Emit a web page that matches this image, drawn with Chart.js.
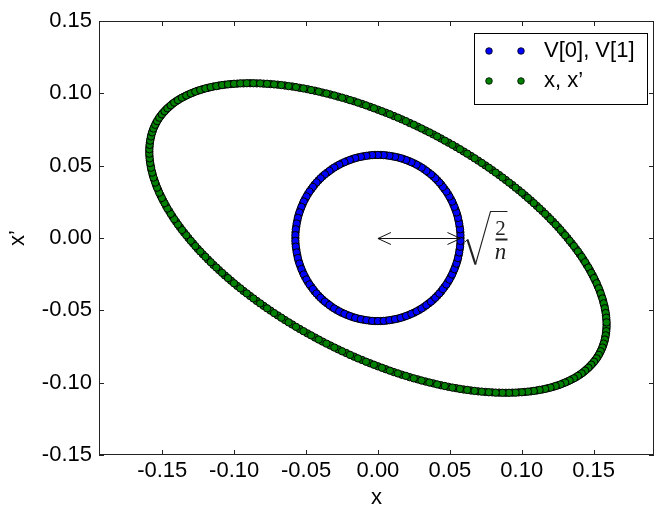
<!DOCTYPE html>
<html>
<head>
<meta charset="utf-8">
<script src="https://cdn.jsdelivr.net/npm/chart.js@4"></script>
<style>
  html, body { margin: 0; padding: 0; background: #fff; }
  canvas { display: block; }
</style>
</head>
<body>
<canvas id="myChart" width="659" height="509"></canvas>
<script>
// データ
const seriesNames = ['V[0], V[1]', 'x, x’'];

// 青い円 V[0], V[1]
const circleX = [
  0.0574, 0.0573, 0.0568, 0.0561, 0.0552, 0.0539, 0.0524, 0.0507, 0.0487, 0.0464,
  0.0440, 0.0413, 0.0384, 0.0353, 0.0321, 0.0287, 0.0252, 0.0215, 0.0177, 0.0139,
  0.0100, 0.0060, 0.0020, -0.0020, -0.0060, -0.0100, -0.0139, -0.0177, -0.0215, -0.0252,
  -0.0287, -0.0321, -0.0353, -0.0384, -0.0413, -0.0440, -0.0464, -0.0487, -0.0507, -0.0524,
  -0.0539, -0.0552, -0.0561, -0.0568, -0.0573,
  -0.0574, -0.0573, -0.0568, -0.0561, -0.0552, -0.0539, -0.0524, -0.0507, -0.0487, -0.0464,
  -0.0440, -0.0413, -0.0384, -0.0353, -0.0321, -0.0287, -0.0252, -0.0215, -0.0177, -0.0139,
  -0.0100, -0.0060, -0.0020, 0.0020, 0.0060, 0.0100, 0.0139, 0.0177, 0.0215, 0.0252,
  0.0287, 0.0321, 0.0353, 0.0384, 0.0413, 0.0440, 0.0464, 0.0487, 0.0507, 0.0524,
  0.0539, 0.0552, 0.0561, 0.0568, 0.0573,
  0.0574, 0.0571, 0.0565, 0.0557, 0.0546, 0.0532, 0.0516, 0.0497, 0.0476, 0.0452,
  0.0427, 0.0399, 0.0369, 0.0337, 0.0304, 0.0269, 0.0233, 0.0196, 0.0158, 0.0119,
  0.0080, 0.0040, 0.0000, -0.0040, -0.0080, -0.0119, -0.0158, -0.0196, -0.0233, -0.0269,
  -0.0304, -0.0337, -0.0369, -0.0399, -0.0427, -0.0452, -0.0476, -0.0497, -0.0516, -0.0532,
  -0.0546, -0.0557, -0.0565, -0.0571, -0.0574,
  -0.0574, -0.0571, -0.0565, -0.0557, -0.0546, -0.0532, -0.0516, -0.0497, -0.0476, -0.0452,
  -0.0427, -0.0399, -0.0369, -0.0337, -0.0304, -0.0269, -0.0233, -0.0196, -0.0158, -0.0119,
  -0.0080, -0.0040, 0.0000, 0.0040, 0.0080, 0.0119, 0.0158, 0.0196, 0.0233, 0.0269,
  0.0304, 0.0337, 0.0369, 0.0399, 0.0427, 0.0452, 0.0476, 0.0497, 0.0516, 0.0532,
  0.0546, 0.0557, 0.0565, 0.0571, 0.0574
];
const circleY = [
  0.0000, 0.0040, 0.0080, 0.0119, 0.0158, 0.0196, 0.0233, 0.0269, 0.0304, 0.0337,
  0.0369, 0.0399, 0.0427, 0.0452, 0.0476, 0.0497, 0.0516, 0.0532, 0.0546, 0.0557,
  0.0565, 0.0571, 0.0574, 0.0574, 0.0571, 0.0565, 0.0557, 0.0546, 0.0532, 0.0516,
  0.0497, 0.0476, 0.0452, 0.0427, 0.0399, 0.0369, 0.0337, 0.0304, 0.0269, 0.0233,
  0.0196, 0.0158, 0.0119, 0.0080, 0.0040,
  0.0000, -0.0040, -0.0080, -0.0119, -0.0158, -0.0196, -0.0233, -0.0269, -0.0304, -0.0337,
  -0.0369, -0.0399, -0.0427, -0.0452, -0.0476, -0.0497, -0.0516, -0.0532, -0.0546, -0.0557,
  -0.0565, -0.0571, -0.0574, -0.0574, -0.0571, -0.0565, -0.0557, -0.0546, -0.0532, -0.0516,
  -0.0497, -0.0476, -0.0452, -0.0427, -0.0399, -0.0369, -0.0337, -0.0304, -0.0269, -0.0233,
  -0.0196, -0.0158, -0.0119, -0.0080, -0.0040,
  0.0020, 0.0060, 0.0100, 0.0139, 0.0177, 0.0215, 0.0252, 0.0287, 0.0321, 0.0353,
  0.0384, 0.0413, 0.0440, 0.0464, 0.0487, 0.0507, 0.0524, 0.0539, 0.0552, 0.0561,
  0.0568, 0.0573, 0.0574, 0.0573, 0.0568, 0.0561, 0.0552, 0.0539, 0.0524, 0.0507,
  0.0487, 0.0464, 0.0440, 0.0413, 0.0384, 0.0353, 0.0321, 0.0287, 0.0252, 0.0215,
  0.0177, 0.0139, 0.0100, 0.0060, 0.0020,
  -0.0020, -0.0060, -0.0100, -0.0139, -0.0177, -0.0215, -0.0252, -0.0287, -0.0321, -0.0353,
  -0.0384, -0.0413, -0.0440, -0.0464, -0.0487, -0.0507, -0.0524, -0.0539, -0.0552, -0.0561,
  -0.0568, -0.0573, -0.0574, -0.0573, -0.0568, -0.0561, -0.0552, -0.0539, -0.0524, -0.0507,
  -0.0487, -0.0464, -0.0440, -0.0413, -0.0384, -0.0353, -0.0321, -0.0287, -0.0252, -0.0215,
  -0.0177, -0.0139, -0.0100, -0.0060, -0.0020
];

// 緑の楕円 x, x'
const ellipseX = [
  0.1590, 0.1589, 0.1586, 0.1581, 0.1575, 0.1566, 0.1555, 0.1543, 0.1528, 0.1512,
  0.1494, 0.1474, 0.1452, 0.1429, 0.1404, 0.1377, 0.1348, 0.1318, 0.1286, 0.1253,
  0.1218, 0.1182, 0.1144, 0.1105, 0.1064, 0.1022, 0.0979, 0.0935, 0.0889, 0.0843,
  0.0795, 0.0747, 0.0697, 0.0647, 0.0596, 0.0544, 0.0491, 0.0438, 0.0385, 0.0331,
  0.0276, 0.0221, 0.0166, 0.0111, 0.0055, 0.0000, -0.0055, -0.0111, -0.0166, -0.0221,
  -0.0276, -0.0331, -0.0385, -0.0438, -0.0491, -0.0544, -0.0596, -0.0647, -0.0697, -0.0747,
  -0.0795, -0.0843, -0.0889, -0.0935, -0.0979, -0.1022, -0.1064, -0.1105, -0.1144, -0.1182,
  -0.1218, -0.1253, -0.1286, -0.1318, -0.1348, -0.1377, -0.1404, -0.1429, -0.1452, -0.1474,
  -0.1494, -0.1512, -0.1528, -0.1543, -0.1555, -0.1566, -0.1575, -0.1581, -0.1586, -0.1589,
  -0.1590, -0.1589, -0.1586, -0.1581, -0.1575, -0.1566, -0.1555, -0.1543, -0.1528, -0.1512,
  -0.1494, -0.1474, -0.1452, -0.1429, -0.1404, -0.1377, -0.1348, -0.1318, -0.1286, -0.1253,
  -0.1218, -0.1182, -0.1144, -0.1105, -0.1064, -0.1022, -0.0979, -0.0935, -0.0889, -0.0843,
  -0.0795, -0.0747, -0.0697, -0.0647, -0.0596, -0.0544, -0.0491, -0.0438, -0.0385, -0.0331,
  -0.0276, -0.0221, -0.0166, -0.0111, -0.0055, 0.0000, 0.0055, 0.0111, 0.0166, 0.0221,
  0.0276, 0.0331, 0.0385, 0.0438, 0.0491, 0.0544, 0.0596, 0.0647, 0.0697, 0.0747,
  0.0795, 0.0843, 0.0889, 0.0935, 0.0979, 0.1022, 0.1064, 0.1105, 0.1144, 0.1182,
  0.1218, 0.1253, 0.1286, 0.1318, 0.1348, 0.1377, 0.1404, 0.1429, 0.1452, 0.1474,
  0.1494, 0.1512, 0.1528, 0.1543, 0.1555, 0.1566, 0.1575, 0.1581, 0.1586, 0.1589,
  0.1590, 0.1588, 0.1584, 0.1578, 0.1570, 0.1561, 0.1549, 0.1536, 0.1521, 0.1503,
  0.1484, 0.1464, 0.1441, 0.1417, 0.1391, 0.1363, 0.1333, 0.1302, 0.1270, 0.1236,
  0.1200, 0.1163, 0.1124, 0.1084, 0.1043, 0.1001, 0.0957, 0.0912, 0.0866, 0.0819,
  0.0771, 0.0722, 0.0672, 0.0621, 0.0570, 0.0518, 0.0465, 0.0412, 0.0358, 0.0303,
  0.0249, 0.0194, 0.0139, 0.0083, 0.0028, -0.0028, -0.0083, -0.0139, -0.0194, -0.0249,
  -0.0303, -0.0358, -0.0412, -0.0465, -0.0518, -0.0570, -0.0621, -0.0672, -0.0722, -0.0771,
  -0.0819, -0.0866, -0.0912, -0.0957, -0.1001, -0.1043, -0.1084, -0.1124, -0.1163, -0.1200,
  -0.1236, -0.1270, -0.1302, -0.1333, -0.1363, -0.1391, -0.1417, -0.1441, -0.1464, -0.1484,
  -0.1503, -0.1521, -0.1536, -0.1549, -0.1561, -0.1570, -0.1578, -0.1584, -0.1588, -0.1590,
  -0.1590, -0.1588, -0.1584, -0.1578, -0.1570, -0.1561, -0.1549, -0.1536, -0.1521, -0.1503,
  -0.1484, -0.1464, -0.1441, -0.1417, -0.1391, -0.1363, -0.1333, -0.1302, -0.1270, -0.1236,
  -0.1200, -0.1163, -0.1124, -0.1084, -0.1043, -0.1001, -0.0957, -0.0912, -0.0866, -0.0819,
  -0.0771, -0.0722, -0.0672, -0.0621, -0.0570, -0.0518, -0.0465, -0.0412, -0.0358, -0.0303,
  -0.0249, -0.0194, -0.0139, -0.0083, -0.0028, 0.0028, 0.0083, 0.0139, 0.0194, 0.0249,
  0.0303, 0.0358, 0.0412, 0.0465, 0.0518, 0.0570, 0.0621, 0.0672, 0.0722, 0.0771,
  0.0819, 0.0866, 0.0912, 0.0957, 0.1001, 0.1043, 0.1084, 0.1124, 0.1163, 0.1200,
  0.1236, 0.1270, 0.1302, 0.1333, 0.1363, 0.1391, 0.1417, 0.1441, 0.1464, 0.1484,
  0.1503, 0.1521, 0.1536, 0.1549, 0.1561, 0.1570, 0.1578, 0.1584, 0.1588, 0.1590
];
const ellipseY = [
  -0.0598, -0.0629, -0.0659, -0.0688, -0.0716, -0.0743, -0.0770, -0.0795, -0.0820, -0.0843,
  -0.0866, -0.0887, -0.0907, -0.0927, -0.0945, -0.0962, -0.0977, -0.0992, -0.1005, -0.1018,
  -0.1029, -0.1038, -0.1047, -0.1054, -0.1060, -0.1064, -0.1067, -0.1069, -0.1070, -0.1069,
  -0.1067, -0.1064, -0.1060, -0.1054, -0.1047, -0.1038, -0.1029, -0.1018, -0.1005, -0.0992,
  -0.0977, -0.0962, -0.0945, -0.0927, -0.0907, -0.0887, -0.0866, -0.0843, -0.0820, -0.0795,
  -0.0770, -0.0743, -0.0716, -0.0688, -0.0659, -0.0629, -0.0598, -0.0567, -0.0535, -0.0502,
  -0.0469, -0.0435, -0.0401, -0.0366, -0.0331, -0.0295, -0.0259, -0.0222, -0.0186, -0.0149,
  -0.0112, -0.0075, -0.0037, 0.0000, 0.0037, 0.0075, 0.0112, 0.0149, 0.0186, 0.0222,
  0.0259, 0.0295, 0.0331, 0.0366, 0.0401, 0.0435, 0.0469, 0.0502, 0.0535, 0.0567,
  0.0598, 0.0629, 0.0659, 0.0688, 0.0716, 0.0743, 0.0770, 0.0795, 0.0820, 0.0843,
  0.0866, 0.0887, 0.0907, 0.0927, 0.0945, 0.0962, 0.0977, 0.0992, 0.1005, 0.1018,
  0.1029, 0.1038, 0.1047, 0.1054, 0.1060, 0.1064, 0.1067, 0.1069, 0.1070, 0.1069,
  0.1067, 0.1064, 0.1060, 0.1054, 0.1047, 0.1038, 0.1029, 0.1018, 0.1005, 0.0992,
  0.0977, 0.0962, 0.0945, 0.0927, 0.0907, 0.0887, 0.0866, 0.0843, 0.0820, 0.0795,
  0.0770, 0.0743, 0.0716, 0.0688, 0.0659, 0.0629, 0.0598, 0.0567, 0.0535, 0.0502,
  0.0469, 0.0435, 0.0401, 0.0366, 0.0331, 0.0295, 0.0259, 0.0222, 0.0186, 0.0149,
  0.0112, 0.0075, 0.0037, 0.0000, -0.0037, -0.0075, -0.0112, -0.0149, -0.0186, -0.0222,
  -0.0259, -0.0295, -0.0331, -0.0366, -0.0401, -0.0435, -0.0469, -0.0502, -0.0535, -0.0567,
  -0.0614, -0.0644, -0.0673, -0.0702, -0.0730, -0.0757, -0.0783, -0.0808, -0.0832, -0.0855,
  -0.0876, -0.0897, -0.0917, -0.0936, -0.0953, -0.0970, -0.0985, -0.0999, -0.1012, -0.1023,
  -0.1034, -0.1043, -0.1050, -0.1057, -0.1062, -0.1066, -0.1069, -0.1070, -0.1070, -0.1069,
  -0.1066, -0.1062, -0.1057, -0.1050, -0.1043, -0.1034, -0.1023, -0.1012, -0.0999, -0.0985,
  -0.0970, -0.0953, -0.0936, -0.0917, -0.0897, -0.0876, -0.0855, -0.0832, -0.0808, -0.0783,
  -0.0757, -0.0730, -0.0702, -0.0673, -0.0644, -0.0614, -0.0583, -0.0551, -0.0519, -0.0486,
  -0.0452, -0.0418, -0.0383, -0.0348, -0.0313, -0.0277, -0.0241, -0.0204, -0.0167, -0.0130,
  -0.0093, -0.0056, -0.0019, 0.0019, 0.0056, 0.0093, 0.0130, 0.0167, 0.0204, 0.0241,
  0.0277, 0.0313, 0.0348, 0.0383, 0.0418, 0.0452, 0.0486, 0.0519, 0.0551, 0.0583,
  0.0614, 0.0644, 0.0673, 0.0702, 0.0730, 0.0757, 0.0783, 0.0808, 0.0832, 0.0855,
  0.0876, 0.0897, 0.0917, 0.0936, 0.0953, 0.0970, 0.0985, 0.0999, 0.1012, 0.1023,
  0.1034, 0.1043, 0.1050, 0.1057, 0.1062, 0.1066, 0.1069, 0.1070, 0.1070, 0.1069,
  0.1066, 0.1062, 0.1057, 0.1050, 0.1043, 0.1034, 0.1023, 0.1012, 0.0999, 0.0985,
  0.0970, 0.0953, 0.0936, 0.0917, 0.0897, 0.0876, 0.0855, 0.0832, 0.0808, 0.0783,
  0.0757, 0.0730, 0.0702, 0.0673, 0.0644, 0.0614, 0.0583, 0.0551, 0.0519, 0.0486,
  0.0452, 0.0418, 0.0383, 0.0348, 0.0313, 0.0277, 0.0241, 0.0204, 0.0167, 0.0130,
  0.0093, 0.0056, 0.0019, -0.0019, -0.0056, -0.0093, -0.0130, -0.0167, -0.0204, -0.0241,
  -0.0277, -0.0313, -0.0348, -0.0383, -0.0418, -0.0452, -0.0486, -0.0519, -0.0551, -0.0583
];

// 目盛り
const xTicks = [-0.15, -0.10, -0.05, 0.00, 0.05, 0.10, 0.15];
const yTicks = [-0.15, -0.10, -0.05, 0.00, 0.05, 0.10, 0.15];

// 矢印（原点から円の半径まで）
const arrowStart = [0.0, 0.0];
const arrowEnd = [0.0574, 0.0];

const colors = ['#0000ff', '#008000'];
const FONT = '"Liberation Sans", Arial, sans-serif';
Chart.defaults.font.family = FONT;

const toPoints = (xs, ys) => xs.map((x, i) => ({ x: x, y: ys[i] }));

// 枠と内向きの目盛り、矢印、√(2/n)、凡例
const framePlugin = {
  id: 'frame',
  afterDatasetsDraw(chart) {
    const { ctx, chartArea: a, scales } = chart;
    ctx.save();
    ctx.strokeStyle = '#222';
    ctx.lineWidth = 1;
    ctx.beginPath();
    xTicks.forEach(v => {
      const px = Math.round(scales.x.getPixelForValue(v)) + 0.5;
      ctx.moveTo(px, a.bottom); ctx.lineTo(px, a.bottom - 5);
      ctx.moveTo(px, a.top); ctx.lineTo(px, a.top + 5);
    });
    yTicks.forEach(v => {
      const py = Math.round(scales.y.getPixelForValue(v)) + 0.5;
      ctx.moveTo(a.left, py); ctx.lineTo(a.left + 5, py);
      ctx.moveTo(a.right, py); ctx.lineTo(a.right - 5, py);
    });
    ctx.stroke();
    ctx.strokeRect(Math.round(a.left) + 0.5, Math.round(a.top) + 0.5,
      Math.round(a.right - a.left) - 1, Math.round(a.bottom - a.top) - 1);

    // 両矢印
    const x0 = scales.x.getPixelForValue(arrowStart[0]);
    const x1 = scales.x.getPixelForValue(arrowEnd[0]);
    const y0 = Math.round(scales.y.getPixelForValue(arrowStart[1])) + 0.5;
    ctx.strokeStyle = '#111';
    ctx.beginPath();
    ctx.moveTo(x0, y0); ctx.lineTo(x1, y0);
    ctx.moveTo(x0 + 13, y0 - 6); ctx.lineTo(x0, y0); ctx.lineTo(x0 + 13, y0 + 6);
    ctx.moveTo(x1 - 13, y0 - 6); ctx.lineTo(x1, y0); ctx.lineTo(x1 - 13, y0 + 6);
    ctx.stroke();

    // sqrt(2/n)
    const bx = x1, by = y0;
    ctx.strokeStyle = '#222';
    ctx.fillStyle = '#222';
    ctx.lineWidth = 1;
    ctx.beginPath();
    ctx.moveTo(bx + 4, by + 4); ctx.lineTo(bx + 7, by + 1);
    ctx.stroke();
    ctx.lineWidth = 2.2;
    ctx.beginPath();
    ctx.moveTo(bx + 7, by + 1); ctx.lineTo(bx + 15, by + 26);
    ctx.stroke();
    ctx.lineWidth = 1.1;
    ctx.beginPath();
    ctx.moveTo(bx + 15, by + 26); ctx.lineTo(bx + 30, by - 27); ctx.lineTo(bx + 47, by - 27);
    ctx.stroke();
    ctx.fillRect(bx + 35, by, 12, 2);
    ctx.textAlign = 'center';
    ctx.textBaseline = 'middle';
    ctx.font = '21px "Liberation Serif", "DejaVu Serif", serif';
    ctx.fillText('2', bx + 40, by - 9);
    ctx.font = 'italic 23px "Liberation Serif", "DejaVu Serif", serif';
    ctx.fillText('n', bx + 40, by + 14);
    ctx.restore();
  },
  afterDraw(chart) {
    const { ctx } = chart;
    ctx.save();
    ctx.fillStyle = '#fff';
    ctx.fillRect(474.5, 33.5, 173, 71);
    ctx.strokeStyle = '#000';
    ctx.lineWidth = 1;
    ctx.strokeRect(474.5, 33.5, 173, 71);
    seriesNames.forEach((name, i) => {
      const y = 51 + i * 30;
      [489, 521].forEach(mx => {
        ctx.beginPath();
        ctx.arc(mx, y, 3.3, 0, Math.PI * 2);
        ctx.fillStyle = colors[i];
        ctx.fill();
        ctx.lineWidth = 0.8;
        ctx.strokeStyle = '#000';
        ctx.stroke();
      });
      ctx.fillStyle = '#000';
      ctx.font = '22px ' + FONT;
      ctx.textAlign = 'left';
      ctx.textBaseline = 'middle';
      ctx.fillText(name, 544, y);
    });
    ctx.restore();
  }
};

new Chart(document.getElementById('myChart'), {
  type: 'scatter',
  data: {
    datasets: [
      {
        label: seriesNames[0],
        data: toPoints(circleX, circleY),
        backgroundColor: colors[0],
        borderColor: '#000',
        borderWidth: 1,
        pointRadius: 3.7
      },
      {
        label: seriesNames[1],
        data: toPoints(ellipseX, ellipseY),
        backgroundColor: colors[1],
        borderColor: '#000',
        borderWidth: 1,
        pointRadius: 3.7
      }
    ]
  },
  options: {
    responsive: false,
    animation: false,
    devicePixelRatio: 1,
    layout: { padding: { left: 0, top: 21, right: 3, bottom: 0 } },
    scales: {
      x: {
        type: 'linear',
        min: -0.194,
        max: 0.192,
        afterBuildTicks: s => { s.ticks = xTicks.map(v => ({ value: v })); },
        afterFit: s => { s.height = 54; },
        grid: { display: false, drawTicks: false },
        border: { display: false },
        ticks: {
          padding: 3,
          color: '#000',
          font: { size: 22 },
          maxRotation: 0,
          autoSkip: false,
          callback: v => v.toFixed(2)
        },
        title: {
          display: true,
          text: 'x',
          color: '#000',
          font: { size: 22, lineHeight: 1 },
          padding: { top: 1, bottom: 0 }
        }
      },
      y: {
        type: 'linear',
        min: -0.15,
        max: 0.15,
        afterBuildTicks: s => { s.ticks = yTicks.map(v => ({ value: v })); },
        afterFit: s => { s.width = 99; },
        grid: { display: false, drawTicks: false },
        border: { display: false },
        ticks: {
          padding: 7,
          color: '#000',
          font: { size: 22 },
          autoSkip: false,
          callback: v => v.toFixed(2)
        },
        title: {
          display: true,
          text: 'x’',
          color: '#000',
          font: { size: 22 },
          padding: { top: 5, bottom: 0 }
        }
      }
    },
    plugins: {
      legend: { display: false },
      tooltip: { enabled: false }
    }
  },
  plugins: [framePlugin]
});
</script>
</body>
</html>
